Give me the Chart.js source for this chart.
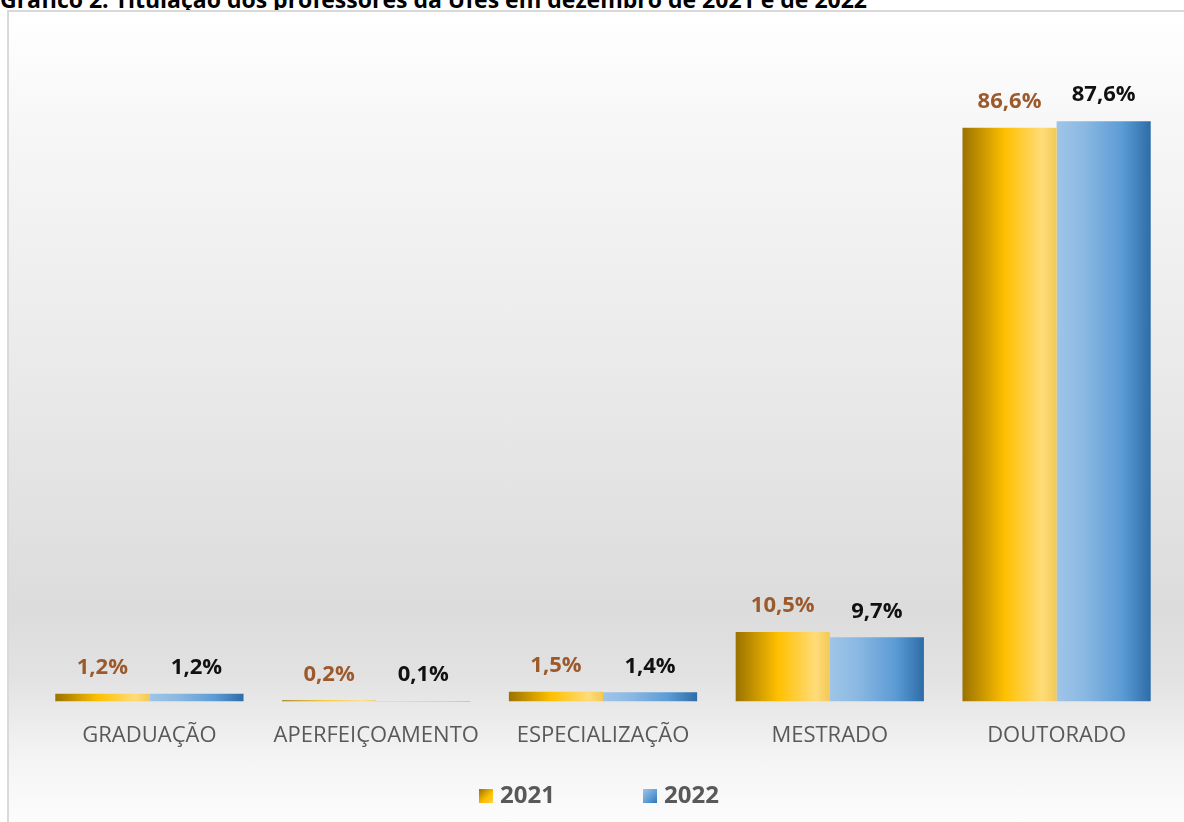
<!DOCTYPE html>
<html><head><meta charset="utf-8">
<script src="https://cdn.jsdelivr.net/npm/chart.js@4.4.1/dist/chart.umd.min.js"></script>
<style>
html,body{margin:0;padding:0;background:#fff;width:1184px;height:822px;overflow:hidden;font-family:"Open Sans",sans-serif;}
#title{position:absolute;left:0;top:-17px;font:bold 23px "Open Sans",sans-serif;color:#000;white-space:nowrap;}
#frame{position:absolute;left:7px;top:10px;width:1190px;height:830px;border-left:2px solid #d9d9d9;border-top:2px solid #d9d9d9;
background:linear-gradient(to bottom,#ffffff 0%,#f6f6f6 15%,#e9e9e9 45%,#dcdcdc 72%,#e2e2e2 80%,#f4f4f4 90%,#ffffff 100%);}
#wrap{position:absolute;left:0;top:0;width:1184px;height:822px;}
#legend{position:absolute;top:777px;left:7px;width:1184px;text-align:center;font:bold 24px "Open Sans",sans-serif;color:#595959;}
#legend span.item{display:inline-block;margin:0 44px;}
#legend span.box{display:inline-block;width:14px;height:14px;margin-right:7px;vertical-align:0px;}
</style></head>
<body>
<div id="title">Gráfico 2: Titulação dos professores da Ufes em dezembro de 2021 e de 2022</div>
<div id="frame"></div>
<div id="wrap"><canvas id="c" width="1184" height="822"></canvas></div>
<div id="legend"></div>
<script>
const categories = ["GRADUAÇÃO","APERFEIÇOAMENTO","ESPECIALIZAÇÃO","MESTRADO","DOUTORADO"];
const seriesNames = ["2021","2022"];
const values2021 = [1.2, 0.2, 1.5, 10.5, 86.6];
const values2022 = [1.2, 0.1, 1.4, 9.7, 87.6];

const CAT_PCT = 0.83;
const stops = [
  [[0,'#9a7200'],[0.45,'#ffc000'],[0.85,'#ffdc7a'],[1,'#f3c955']],
  [[0,'#9fc5e8'],[0.3,'#8ab8e2'],[0.7,'#5b9bd5'],[1,'#2e6ca8']]
];
function grad(ctx, dsIndex){
  const chart = ctx.chart;
  const sc = chart.scales && chart.scales.x;
  if (!chart.chartArea || !sc || ctx.dataIndex === undefined) return dsIndex ? '#6fa8dc' : '#e0aa00';
  const cx = sc.getPixelForValue(ctx.dataIndex);
  const catW = (sc.width / categories.length) * CAT_PCT;
  const x0 = dsIndex ? cx : cx - catW/2;
  const x1 = x0 + catW/2;
  const g = chart.ctx.createLinearGradient(x0, 0, x1, 0);
  stops[dsIndex].forEach(s => g.addColorStop(s[0], s[1]));
  return g;
}
const labelColors = ['#9c5a2c','#111111'];
const dataLabels = {
  id:'dataLabels',
  afterDatasetsDraw(chart){
    const c = chart.ctx;
    c.save();
    c.font = 'bold 22px "Open Sans", sans-serif';
    c.textAlign = 'center';
    c.textBaseline = 'middle';
    chart.data.datasets.forEach((ds, di) => {
      const meta = chart.getDatasetMeta(di);
      meta.data.forEach((el, i) => {
        c.fillStyle = labelColors[di];
        c.fillText(ds.data[i].toFixed(1).replace('.', ',') + '%', el.x, el.y - 26);
      });
    });
    c.restore();
  }
};
const chart = new Chart(document.getElementById('c'), {
  type:'bar',
  data:{
    labels: categories,
    datasets:[
      {label: seriesNames[0], data: values2021, backgroundColor: ctx => grad(ctx,0), categoryPercentage: CAT_PCT, barPercentage: 1.0},
      {label: seriesNames[1], data: values2022, backgroundColor: ctx => grad(ctx,1), categoryPercentage: CAT_PCT, barPercentage: 1.0}
    ]
  },
  options:{
    responsive:false,
    animation:false,
    layout:{padding:{left:36,right:14,top:39,bottom:60}},
    plugins:{legend:{display:false}, tooltip:{enabled:false}, title:{display:false}},
    scales:{
      x:{grid:{display:false}, border:{display:false},
         ticks:{color:'#595959', font:{family:'"Open Sans", sans-serif', size:22}, padding:13, maxRotation:0, autoSkip:false}},
      y:{display:false, min:0, max:100}
    }
  },
  plugins:[dataLabels]
});
const lg = document.getElementById('legend');
const boxBg = ['linear-gradient(135deg,#9a7200,#ffc000 60%,#ffd24d)','linear-gradient(135deg,#9fc5e8,#5b9bd5 60%,#2e75b6)'];
seriesNames.forEach((n,i)=>{
  const it = document.createElement('span'); it.className='item';
  const b = document.createElement('span'); b.className='box'; b.style.background = boxBg[i];
  it.appendChild(b); it.appendChild(document.createTextNode(n)); lg.appendChild(it);
});
</script>
</body></html>
